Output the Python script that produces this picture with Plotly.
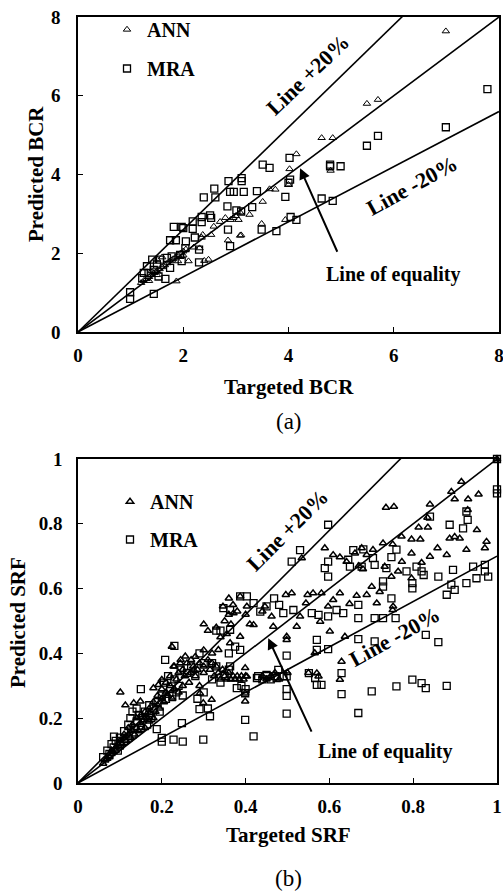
import plotly.graph_objects as go

# ---------------- data ----------------
# (a) BCR : (targeted, predicted)
bcr_ann = [(1.2,1.25),(1.25,1.3),(1.3,1.35),(1.35,1.3),(1.35,1.4),(1.4,1.45),(1.4,1.55),(1.45,1.5),
           (1.5,1.45),(1.5,1.55),(1.5,1.85),(1.55,1.6),(1.6,1.65),(1.6,1.9),(1.65,1.7),(1.7,1.75),
           (1.75,1.8),(1.8,1.85),(1.85,1.9),(1.87,1.29),(1.9,1.8),(1.9,1.95),(1.95,2.0),(2.0,1.95),
           (2.0,2.05),(2.05,2.1),(2.1,1.8),(2.2,2.15),(2.31,2.13),(2.35,2.4),(2.37,2.47),(2.4,1.81),
           (2.48,1.84),(2.53,2.47),(2.58,2.68),(2.7,2.8),(2.8,2.9),(2.85,2.33),(2.9,2.85),(2.95,2.9),
           (3.0,2.95),(3.05,2.85),(3.08,3.04),(3.1,2.46),(3.08,2.45),(3.26,2.98),(3.49,2.75),(3.51,3.31),
           (3.64,3.63),(3.75,3.62),(3.94,2.85),(4.0,3.74),(4.02,4.14),(4.15,4.52),(4.63,4.93),
           (4.84,4.93),(4.8,4.1),(5.49,5.80),(5.70,5.90),(6.99,7.64)]
bcr_mra = [(0.99,1.01),(0.99,0.84),(1.22,1.37),(1.25,1.5),(1.31,1.67),(1.34,1.5),(1.41,1.84),(1.44,1.58),
           (1.44,0.97),(1.5,1.71),(1.53,1.41),(1.56,1.84),(1.66,1.35),(1.69,1.88),(1.75,1.63),(1.75,2.33),
           (1.78,1.92),(1.82,2.67),(1.86,2.33),(1.94,1.96),(1.97,1.80),(1.97,2.67),(2.0,2.64),(2.04,2.13),
           (2.05,2.30),(2.18,2.81),(2.18,2.62),(2.22,2.40),(2.30,1.77),(2.30,2.09),(2.35,2.92),(2.35,2.79),
           (2.39,3.42),(2.51,2.96),(2.53,2.9),(2.59,3.64),(2.61,3.42),(2.84,3.19),(2.85,2.6),(2.86,3.83),
           (2.89,3.56),(2.89,2.18),(2.96,3.56),(3.01,3.09),(3.10,3.06),(3.11,3.91),(3.11,3.83),(3.15,3.56),
           (3.31,3.17),(3.40,3.58),(3.49,2.60),(3.51,4.25),(3.64,4.17),(3.77,2.56),(3.94,3.43),(4.0,3.79),
           (4.02,4.42),(4.03,3.87),(4.04,2.92),(4.15,2.85),(4.63,3.39),(4.79,4.21),(4.79,4.25),(4.84,3.33),
           (4.99,4.21),(5.49,4.73),(5.70,4.98),(6.99,5.20),(7.78,6.17)]

# (b) SRF : (targeted, predicted)
srf_ann = [(0.06,0.06),(0.065,0.07),(0.07,0.075),(0.075,0.08),(0.08,0.09),(0.08,0.1),(0.085,0.095),
           (0.09,0.1),(0.09,0.11),(0.095,0.12),(0.1,0.11),(0.1,0.13),(0.101,0.28),(0.105,0.12),(0.11,0.14),
           (0.11,0.15),(0.113,0.24),(0.115,0.13),(0.12,0.15),(0.12,0.17),(0.125,0.14),(0.13,0.16),
           (0.13,0.18),(0.133,0.247),(0.135,0.15),(0.14,0.17),(0.14,0.2),(0.145,0.16),(0.149,0.252),
           (0.15,0.18),(0.15,0.21),(0.155,0.19),(0.16,0.17),(0.16,0.22),(0.165,0.2),(0.17,0.19),(0.17,0.23),
           (0.175,0.21),(0.18,0.2),(0.18,0.25),(0.18,0.293),(0.185,0.22),(0.19,0.24),(0.19,0.27),
           (0.192,0.303),(0.195,0.23),(0.2,0.26),(0.2,0.29),(0.2,0.319),(0.205,0.25),(0.21,0.28),(0.21,0.31),
           (0.215,0.27),(0.22,0.3),(0.22,0.33),(0.224,0.421),(0.225,0.26),(0.228,0.36),(0.23,0.29),
           (0.23,0.36),(0.235,0.32),(0.24,0.28),(0.24,0.34),(0.244,0.37),(0.245,0.38),(0.25,0.3),
           (0.25,0.35),(0.255,0.33),(0.256,0.391),(0.26,0.37),(0.265,0.31),(0.27,0.34),(0.27,0.38),
           (0.275,0.36),(0.276,0.349),(0.28,0.33),(0.28,0.39),(0.285,0.35),(0.29,0.37),(0.29,0.3),
           (0.291,0.277),(0.299,0.247),(0.3,0.36),(0.3,0.34),(0.3,0.41),(0.3,0.49),(0.31,0.38),(0.31,0.47),
           (0.315,0.35),(0.319,0.257),(0.32,0.37),(0.32,0.4),(0.325,0.33),(0.33,0.36),(0.33,0.48),
           (0.335,0.34),(0.335,0.411),(0.34,0.32),(0.34,0.45),(0.345,0.35),(0.346,0.545),(0.35,0.33),
           (0.35,0.5),(0.355,0.32),(0.355,0.46),(0.36,0.34),(0.36,0.57),(0.36,0.52),(0.363,0.432),
           (0.365,0.32),(0.365,0.49),(0.37,0.33),(0.37,0.55),(0.371,0.524),(0.375,0.32),(0.38,0.33),
           (0.38,0.53),(0.385,0.32),(0.387,0.576),(0.387,0.452),(0.39,0.33),(0.395,0.32),(0.399,0.355),
           (0.399,0.252),(0.399,0.277),(0.4,0.33),(0.4,0.52),(0.403,0.545),(0.403,0.329),(0.41,0.49),
           (0.419,0.488),(0.44,0.53),(0.44,0.33),(0.446,0.545),(0.45,0.32),(0.46,0.33),(0.462,0.514),
           (0.466,0.483),(0.47,0.34),(0.48,0.32),(0.496,0.581),(0.498,0.452),(0.498,0.442),(0.5,0.34),
           (0.51,0.586),(0.522,0.483),(0.53,0.514),(0.534,0.694),(0.544,0.555),(0.548,0.581),(0.55,0.34),
           (0.561,0.586),(0.565,0.401),(0.57,0.339),(0.574,0.329),(0.578,0.498),(0.581,0.586),
           (0.589,0.725),(0.597,0.545),(0.601,0.468),(0.609,0.565),(0.609,0.704),(0.625,0.586),
           (0.625,0.319),(0.625,0.697),(0.629,0.375),(0.637,0.452),(0.641,0.683),(0.648,0.553),
           (0.661,0.709),(0.665,0.578),(0.67,0.67),(0.677,0.725),(0.68,0.66),(0.689,0.581),(0.689,0.704),
           (0.701,0.606),(0.704,0.72),(0.713,0.555),(0.72,0.59),(0.728,0.74),(0.732,0.668),(0.735,0.85),
           (0.748,0.637),(0.751,0.737),(0.751,0.534),(0.752,0.545),(0.754,0.853),(0.764,0.653),
           (0.772,0.761),(0.773,0.683),(0.796,0.752),(0.796,0.709),(0.796,0.632),(0.813,0.789),
           (0.817,0.752),(0.82,0.68),(0.834,0.819),(0.835,0.789),(0.84,0.86),(0.84,0.699),(0.858,0.725),
           (0.88,0.704),(0.887,0.755),(0.891,0.899),(0.899,0.876),(0.899,0.76),(0.911,0.755),(0.915,0.930),
           (0.927,0.72),(0.93,0.843),(0.931,0.876),(0.952,0.781),(0.956,0.891),(0.971,0.725),
           (0.975,0.745),(1.0,1.0)]
srf_mra = [(0.06,0.08),(0.07,0.1),(0.075,0.09),(0.08,0.12),(0.085,0.11),(0.086,0.143),(0.09,0.13),
           (0.095,0.1),(0.1,0.12),(0.1,0.14),(0.11,0.13),(0.11,0.16),(0.12,0.14),(0.12,0.18),(0.125,0.2),
           (0.13,0.15),(0.13,0.22),(0.135,0.17),(0.14,0.19),(0.14,0.23),(0.145,0.21),(0.15,0.17),
           (0.15,0.29),(0.155,0.2),(0.16,0.22),(0.165,0.18),(0.17,0.21),(0.17,0.24),(0.175,0.2),
           (0.18,0.23),(0.188,0.166),(0.19,0.25),(0.195,0.22),(0.2,0.27),(0.2,0.128),(0.2,0.139),
           (0.205,0.31),(0.208,0.38),(0.21,0.26),(0.215,0.33),(0.22,0.29),(0.225,0.27),(0.23,0.423),
           (0.23,0.32),(0.228,0.134),(0.235,0.28),(0.24,0.3),(0.245,0.35),(0.248,0.185),(0.25,0.128),
           (0.25,0.27),(0.26,0.34),(0.27,0.36),(0.28,0.33),(0.285,0.26),(0.29,0.4),(0.29,0.228),
           (0.299,0.134),(0.3,0.37),(0.3,0.28),(0.31,0.23),(0.315,0.206),(0.32,0.37),(0.32,0.32),
           (0.33,0.36),(0.33,0.47),(0.34,0.47),(0.34,0.31),(0.347,0.54),(0.35,0.33),(0.36,0.4),
           (0.36,0.35),(0.363,0.534),(0.363,0.473),(0.363,0.36),(0.375,0.421),(0.379,0.293),
           (0.387,0.411),(0.387,0.576),(0.39,0.3),(0.399,0.195),(0.399,0.277),(0.403,0.576),(0.4,0.29),
           (0.419,0.144),(0.419,0.555),(0.427,0.324),(0.43,0.33),(0.435,0.529),(0.44,0.32),(0.45,0.545),
           (0.45,0.334),(0.45,0.33),(0.46,0.32),(0.468,0.57),(0.47,0.33),(0.474,0.324),(0.478,0.349),
           (0.48,0.55),(0.49,0.524),(0.49,0.33),(0.498,0.393),(0.498,0.269),(0.498,0.29),(0.498,0.214),
           (0.498,0.329),(0.51,0.683),(0.514,0.534),(0.53,0.719),(0.551,0.339),(0.558,0.524),
           (0.566,0.324),(0.57,0.303),(0.57,0.442),(0.57,0.411),(0.574,0.519),(0.581,0.303),
           (0.589,0.663),(0.597,0.797),(0.597,0.683),(0.597,0.637),(0.597,0.514),(0.597,0.413),
           (0.617,0.534),(0.629,0.339),(0.629,0.274),(0.633,0.524),(0.645,0.689),(0.649,0.668),
           (0.657,0.719),(0.669,0.55),(0.669,0.509),(0.669,0.216),(0.669,0.444),(0.677,0.668),
           (0.681,0.721),(0.701,0.283),(0.704,0.694),(0.708,0.673),(0.708,0.509),(0.708,0.437),
           (0.728,0.622),(0.728,0.606),(0.728,0.509),(0.736,0.663),(0.748,0.697),(0.748,0.57),
           (0.758,0.509),(0.76,0.72),(0.76,0.298),(0.784,0.653),(0.798,0.617),(0.798,0.601),
           (0.798,0.319),(0.808,0.668),(0.82,0.653),(0.82,0.308),(0.825,0.642),(0.83,0.293),
           (0.83,0.457),(0.84,0.822),(0.86,0.637),(0.86,0.435),(0.88,0.581),(0.88,0.3),(0.887,0.797),
           (0.891,0.612),(0.895,0.658),(0.899,0.596),(0.919,0.786),(0.927,0.838),(0.927,0.617),
           (0.93,0.812),(0.943,0.668),(0.951,0.632),(0.971,0.653),(0.971,0.673),(0.979,0.637),
           (1.0,1.0),(1.0,0.906),(1.0,0.894)]

bcr_range = [0, 8]
srf_range = [0, 1]
bcr_ticks = [0, 2, 4, 6, 8]
srf_ticks = [0, 0.2, 0.4, 0.6, 0.8, 1]
srf_ticklabels = ["0", "0.2", "0.4", "0.6", "0.8", "1"]
bound_factors = [1.3, 1.0, 0.7]   # Line +20%, line of equality, Line -20%

# ---------------- figure ----------------
W, H = 503, 892
def fx(p): return p / W
def fy(p): return 1 - p / H

SERIF = "Liberation Serif"
BOLD = dict(family=SERIF, size=19, color="black", weight="bold")

fig = go.Figure()

def add_panel(xa, ya, ann, mra, rng, legend, lw_tri):
    for k in bound_factors:
        fig.add_trace(go.Scatter(x=[rng[0], rng[1]], y=[k * rng[0], k * rng[1]], mode="lines",
                                 line=dict(color="black", width=1.6), showlegend=False,
                                 hoverinfo="skip", xaxis=xa, yaxis=ya))
    fig.add_trace(go.Scatter(x=[p[0] for p in ann], y=[p[1] for p in ann], mode="markers",
                             name="ANN", legend=legend, legendgroup="ann" + legend,
                             marker=dict(symbol="triangle-up-open", size=6.5, color="black",
                                         line=dict(width=lw_tri, color="black")),
                             cliponaxis=False, xaxis=xa, yaxis=ya))
    fig.add_trace(go.Scatter(x=[p[0] for p in mra], y=[p[1] for p in mra], mode="markers",
                             name="MRA", legend=legend, legendgroup="mra" + legend,
                             marker=dict(symbol="square-open", size=7, color="black",
                                         line=dict(width=1.3, color="black")),
                             cliponaxis=False, xaxis=xa, yaxis=ya))

add_panel("x", "y", bcr_ann, bcr_mra, bcr_range, "legend", 1.0)
add_panel("x2", "y2", srf_ann, srf_mra, srf_range, "legend2", 1.5)

axis_common = dict(showline=True, linecolor="black", linewidth=1.6, mirror=True,
                   ticks="inside", ticklen=5, tickwidth=1.2, tickcolor="black",
                   showgrid=False, zeroline=False, tickfont=BOLD, automargin=False,
                   ticklabeloverflow="allow")

fig.update_layout(
    template="none",
    width=W, height=H, margin=dict(l=0, r=0, t=0, b=0, autoexpand=False),
    paper_bgcolor="white", plot_bgcolor="white",
    xaxis=dict(domain=[fx(78), fx(499)], range=bcr_range, tickvals=bcr_ticks,
               anchor="y", ticklabelstandoff=5, **axis_common),
    yaxis=dict(domain=[fy(332), fy(17)], range=bcr_range, tickvals=bcr_ticks,
               anchor="x", ticklabelstandoff=12, **axis_common),
    xaxis2=dict(domain=[fx(78), fx(497)], range=srf_range, tickvals=srf_ticks,
                ticktext=srf_ticklabels, anchor="y2", ticklabelstandoff=5, **axis_common),
    yaxis2=dict(domain=[fy(783), fy(459)], range=srf_range, tickvals=srf_ticks,
                ticktext=srf_ticklabels, anchor="x2", ticklabelstandoff=10, **axis_common),
    legend=dict(x=fx(107), y=fy(10), xanchor="left", yanchor="top",
                font=dict(family=SERIF, size=20, color="black", weight="bold"),
                bgcolor="rgba(0,0,0,0)", tracegroupgap=10, itemsizing="trace"),
    legend2=dict(x=fx(110), y=fy(482), xanchor="left", yanchor="top",
                 font=dict(family=SERIF, size=20, color="black", weight="bold"),
                 bgcolor="rgba(0,0,0,0)", tracegroupgap=9, itemsizing="trace"),
    showlegend=True,
)

TXT = dict(family=SERIF, size=20, color="black", weight="bold")
LTXT = dict(family=SERIF, size=22, color="black", weight="bold")
C = dict(xanchor="center", yanchor="middle", showarrow=False)
ann = []
# panel (a) line labels
ann.append(dict(x=4.37, y=6.55, xref="x", yref="y", text="Line +20%", textangle=-44, font=LTXT, **C))
ann.append(dict(x=6.35, y=3.73, xref="x", yref="y", text="Line -20%", textangle=-29, font=LTXT, **C))
ann.append(dict(x=5.99, y=1.45, xref="x", yref="y", text="Line of equality", font=TXT, **C))
ann.append(dict(x=4.22, y=4.16, xref="x", yref="y", ax=4.94, ay=2.0, axref="x", ayref="y",
                text="", showarrow=True, arrowhead=2, arrowsize=1.1, arrowwidth=2,
                arrowcolor="black", standoff=0))
# panel (b) line labels
ann.append(dict(x=0.499, y=0.78, xref="x2", yref="y2", text="Line +20%", textangle=-45, font=LTXT, **C))
ann.append(dict(x=0.757, y=0.451, xref="x2", yref="y2", text="Line -20%", textangle=-29, font=LTXT, **C))
ann.append(dict(x=0.733, y=0.096, xref="x2", yref="y2", text="Line of equality", font=TXT, **C))
ann.append(dict(x=0.454, y=0.447, xref="x2", yref="y2", ax=0.559, ay=0.154, axref="x2", ayref="y2",
                text="", showarrow=True, arrowhead=2, arrowsize=1.1, arrowwidth=2,
                arrowcolor="black", standoff=0))
# axis titles and panel captions
TITLE = dict(family=SERIF, size=21, color="black", weight="bold")
CAP = dict(family=SERIF, size=23, color="black")
ann.append(dict(x=fx(36), y=fy(174), xref="paper", yref="paper", text="Predicted BCR",
                textangle=-90, font=TITLE, **C))
ann.append(dict(x=fx(289), y=fy(387), xref="paper", yref="paper", text="Targeted BCR", font=TITLE, **C))
ann.append(dict(x=fx(289), y=fy(421), xref="paper", yref="paper", text="(a)", font=CAP, **C))
ann.append(dict(x=fx(18), y=fy(623), xref="paper", yref="paper", text="Predicted SRF",
                textangle=-90, font=TITLE, **C))
ann.append(dict(x=fx(288), y=fy(835), xref="paper", yref="paper", text="Targeted SRF", font=TITLE, **C))
ann.append(dict(x=fx(288), y=fy(878), xref="paper", yref="paper", text="(b)", font=CAP, **C))
fig.update_layout(annotations=ann)

fig.write_html("out.html", config={"displayModeBar": False},
               post_script="document.body.style.margin='0';")
